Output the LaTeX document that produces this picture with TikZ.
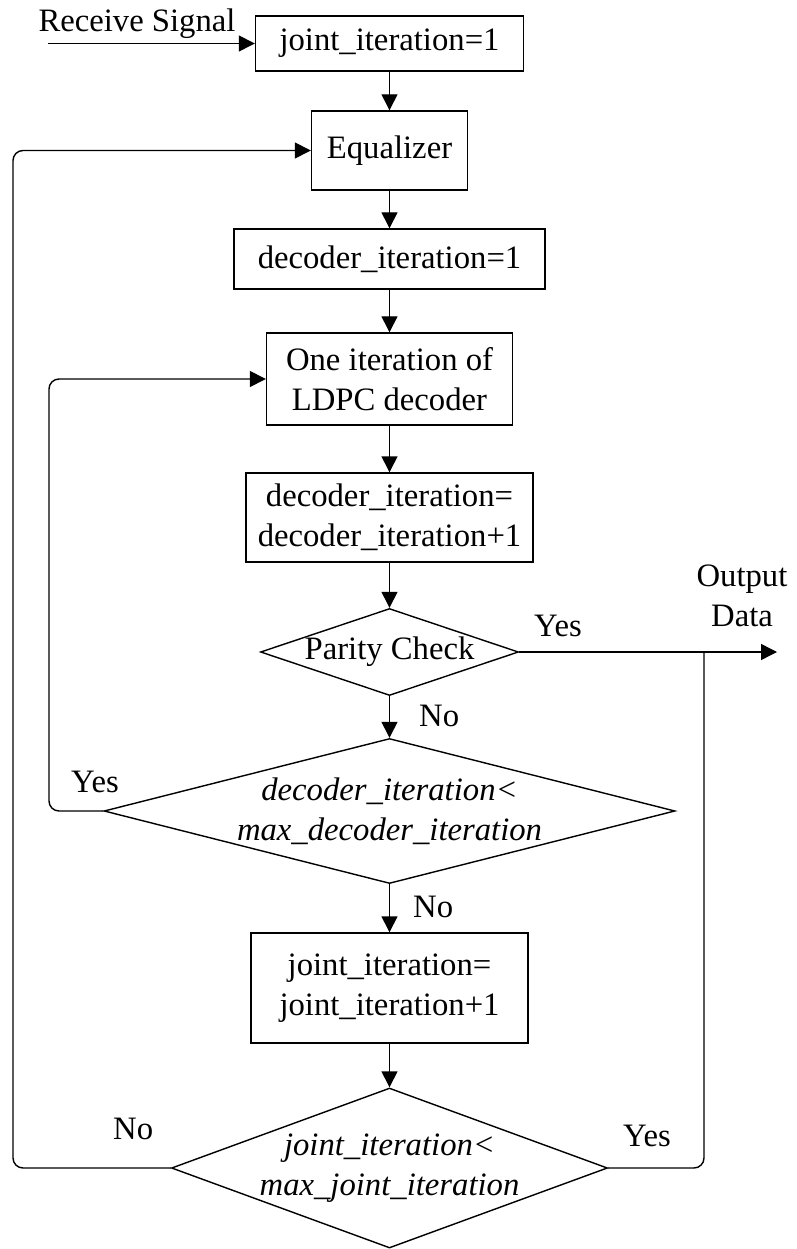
\documentclass[tikz,border=0pt]{standalone}
\usepackage{fontspec}
\setmainfont{Liberation Serif}
\usetikzlibrary{shapes.geometric, arrows.meta, positioning}

\begin{document}
\begin{tikzpicture}[
        % Define node styles
        every node/.style={font=\fontsize{18.6}{22.8}\selectfont},
        process/.style={rectangle, draw, line width=0.8pt, align=center, inner sep=0pt},
        check/.style={diamond, draw, line width=0.8pt, align=center, inner sep=-0.2cm},
        answer/.style={anchor=base west},
        arrow/.style={line width=0.8pt, -{Triangle[length=0.32cm, width=0.32cm]}},
        loop/.style={line width=0.8pt, rounded corners=0.2cm}
    ]

    \useasboundingbox (0,0) rectangle (15.92,-24.98);

    % Main column
    \node[process, minimum width=5.36cm, minimum height=1.1cm] (init) at (7.79,-0.87) {joint\_iteration=1};
    \node[process, minimum width=3.12cm, minimum height=1.58cm] (eq) at (7.79,-3.01) {Equalizer};
    \node[process, minimum width=6.22cm, minimum height=1.2cm] (decinit) at (7.79,-5.18) {decoder\_iteration=1};
    \node[process, minimum width=4.92cm, minimum height=1.84cm] (ldpc) at (7.79,-7.58) {One iteration of\\LDPC decoder};
    \node[process, minimum width=5.74cm, minimum height=1.78cm] (decinc) at (7.79,-10.35) {decoder\_iteration=\\decoder\_iteration+1};

    % Checks
    \node[check, aspect=2.97, minimum width=5.16cm, minimum height=1.74cm] (parity) at (7.79,-13.04) {Parity Check};
    \node[check, aspect=3.94, minimum width=11.42cm, minimum height=2.9cm] (decchk) at (7.79,-16.22) {\textit{decoder\_iteration<}\\\textit{max\_decoder\_iteration}};
    \node[process, minimum width=5.54cm, minimum height=2.2cm] (jointinc) at (7.79,-19.76) {joint\_iteration=\\joint\_iteration+1};
    \node[check, aspect=2.72, minimum width=8.72cm, minimum height=3.2cm] (jointchk) at (7.79,-23.36) {\textit{joint\_iteration<}\\\textit{max\_joint\_iteration}};

    % Input and output
    \coordinate (rxin) at (0.96,-0.87);
    \node[anchor=base] (rxtext) at (2.74,-0.64) {Receive Signal};
    \coordinate (outend) at (15.54,-13.04);
    \coordinate (outjoin) at (14.08,-13.04);
    \node[align=center] (outtext) at (14.84,-11.91) {Output\\Data};

    % Loop lines
    \coordinate (jointloop) at (0.26,0);
    \coordinate (decloop) at (0.98,0);

    % Connect main column
    \draw[arrow] (rxin) -- (init);
    \draw[arrow] (init) -- (eq);
    \draw[arrow] (eq) -- (decinit);
    \draw[arrow] (decinit) -- (ldpc);
    \draw[arrow] (ldpc) -- (decinc);
    \draw[arrow] (decinc) -- (parity);
    \draw[arrow] (parity) -- (decchk);
    \draw[arrow] (decchk) -- (jointinc);
    \draw[arrow] (jointinc) -- (jointchk);
    \draw[arrow] (parity.east) -- (outend);

    % Feedback
    \draw[arrow, loop] (decchk.west) -| (decloop |- ldpc.west) -- (ldpc.west);
    \draw[arrow, loop] (jointchk.west) -| (jointloop |- eq.west) -- (eq.west);
    \draw[loop] (jointchk.east) -| (outjoin);

    % Labels
    \node[answer] (pyes) at (10.56,-12.72) {Yes};
    \node[answer] (pno) at (8.26,-14.52) {No};
    \node[answer] (dyes) at (1.30,-15.84) {Yes};
    \node[answer] (dno) at (8.14,-18.34) {No};
    \node[answer] (jno) at (2.14,-22.78) {No};
    \node[answer] (jyes) at (12.34,-22.92) {Yes};

\end{tikzpicture}
\end{document}
